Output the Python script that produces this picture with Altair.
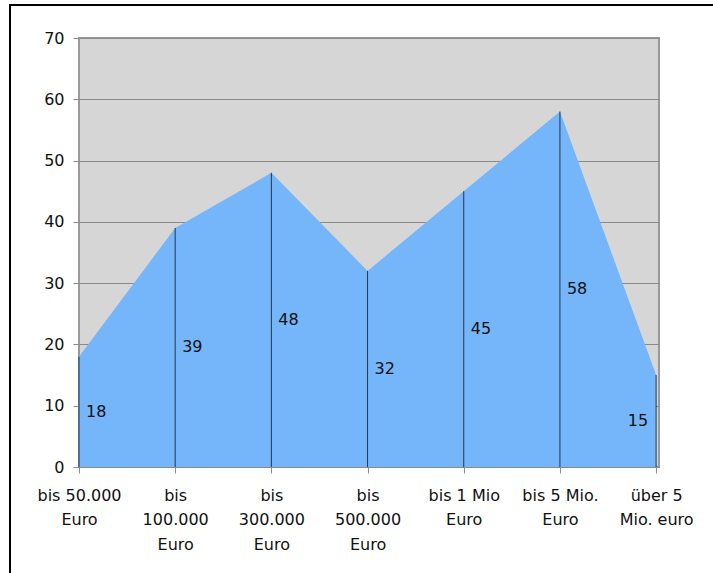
import altair as alt
import pandas as pd

# Turnover classes and share of respondents per class
categories = [
    "bis 50.000|Euro",
    "bis|100.000|Euro",
    "bis|300.000|Euro",
    "bis|500.000|Euro",
    "bis 1 Mio|Euro",
    "bis 5 Mio.|Euro",
    "über 5|Mio. euro",
]
values = [18, 39, 48, 32, 45, 58, 15]

df = pd.DataFrame({
    "idx": list(range(len(categories))),
    "cat": categories,
    "value": values,
})
df["half"] = df["value"] / 2

FONT = "DejaVu Sans"
label_list = "[" + ",".join("'" + c + "'" for c in categories) + "]"

x_enc = alt.X(
    "idx:Q",
    scale=alt.Scale(domain=[0, 6.03], nice=False, zero=False),
    axis=alt.Axis(
        values=list(range(len(categories))),
        labelExpr="split(" + label_list + "[datum.value], '|')",
        title=None,
        grid=False,
        domain=False,
        ticks=True,
        tickSize=6,
        tickColor="#8c8c8c",
        labelFont=FONT,
        labelFontSize=16,
        labelColor="#111111",
        labelPadding=14,
        labelLineHeight=24.5,
        labelBaseline="top",
        labelAlign="center",
        labelFlush=False,
        labelOverlap=False,
    ),
)

y_scale = alt.Scale(domain=[0, 70], nice=False)
y_axis = alt.Axis(
    values=[0, 10, 20, 30, 40, 50, 60, 70],
    title=None,
    grid=True,
    gridColor="#8a8a8a",
    gridWidth=1,
    domain=False,
    tickSize=6,
    tickColor="#8c8c8c",
    labelFont=FONT,
    labelFontSize=16,
    labelColor="#111111",
    labelPadding=9,
)

base = alt.Chart(df)

area = base.mark_area(color="#75b5fa", opacity=1, line=False).encode(
    x=x_enc,
    y=alt.Y("value:Q", scale=y_scale, axis=y_axis),
)

drops = base.mark_rule(color="#203650", strokeWidth=1).encode(
    x="idx:Q",
    y=alt.Y("value:Q"),
    y2=alt.datum(0),
)

labels_right = base.transform_filter("datum.idx < 6").mark_text(
    align="left", baseline="middle", dx=7, font=FONT, fontSize=16, color="#111111"
).encode(x="idx:Q", y="half:Q", text="value:Q")

labels_left = base.transform_filter("datum.idx == 6").mark_text(
    align="right", baseline="middle", dx=-8, font=FONT, fontSize=16, color="#111111"
).encode(x="idx:Q", y="half:Q", text="value:Q")

# Black frame around the figure (left and top edges)
frame_left = alt.Chart(df.head(1)).mark_rule(color="#000000", strokeWidth=2).encode(
    x=alt.value(-69), y=alt.value(-33), y2=alt.value(560)
)
frame_top = alt.Chart(df.head(1)).mark_rule(color="#000000", strokeWidth=2).encode(
    x=alt.value(-70), x2=alt.value(660), y=alt.value(-33)
)

chart = (
    alt.layer(area, drops, labels_right, labels_left, frame_left, frame_top)
    .properties(
        width=580,
        height=429,
        autosize=alt.AutoSizeParams(type="none"),
        padding={"left": 79, "top": 38, "right": 54, "bottom": 106},
        background="#ffffff",
    )
    .configure_view(fill="#d6d6d6", stroke="#9a9a9a", strokeWidth=2)
)

chart.save("out.html", embed_options={"renderer": "svg", "actions": False})
